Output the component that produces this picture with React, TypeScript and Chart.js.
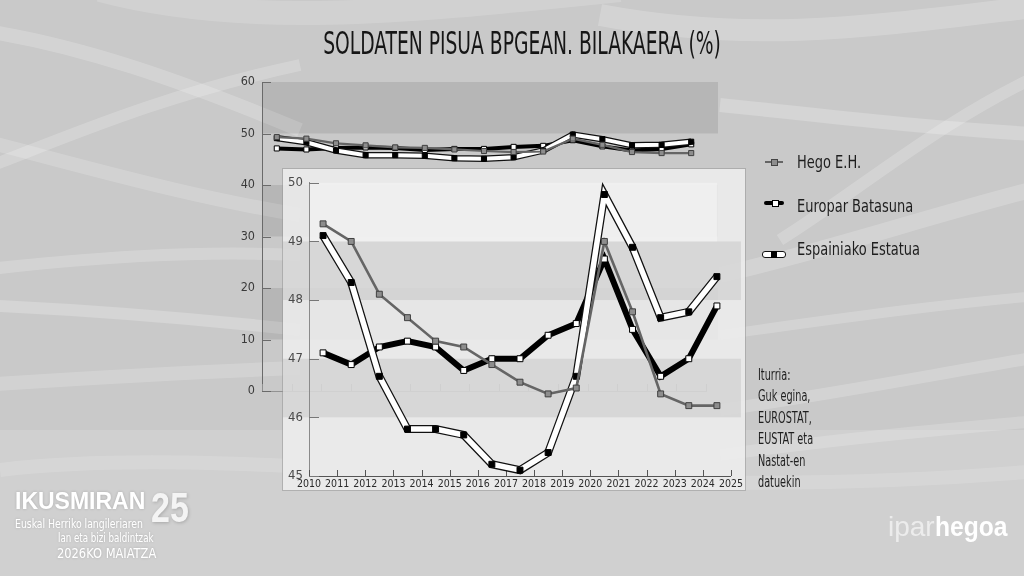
import React, { useEffect, useRef } from "react";
import { Chart, registerables } from "chart.js";

Chart.register(...registerables);

const NARROW = '"Liberation Sans Narrow", "DejaVu Sans Condensed", "Arial Narrow", sans-serif';
const SANS = '"Liberation Sans", Arial, sans-serif';

// ---------- data ----------
const years = [2010, 2011, 2012, 2013, 2014, 2015, 2016, 2017, 2018, 2019, 2020, 2021, 2022, 2023, 2024];
const yearTicks = [2010, 2011, 2012, 2013, 2014, 2015, 2016, 2017, 2018, 2019, 2020, 2021, 2022, 2023, 2024, 2025];
const outerYTicks = [0, 10, 20, 30, 40, 50, 60];
const insetYTicks = [45, 46, 47, 48, 49, 50];

const hegoEH = [49.3, 49.0, 48.1, 47.7, 47.3, 47.2, 46.9, 46.6, 46.4, 46.5, 49.0, 47.8, 46.4, 46.2, 46.2];
const europarBatasuna = [47.1, 46.9, 47.2, 47.3, 47.2, 46.8, 47.0, 47.0, 47.4, 47.6, 48.7, 47.5, 46.7, 47.0, 47.9];
const espainiakoEstatua = [49.1, 48.3, 46.7, 45.8, 45.8, 45.7, 45.2, 45.1, 45.4, 46.7, 49.8, 48.9, 47.7, 47.8, 48.4];

const seriesNames = ["Hego E.H.", "Europar Batasuna", "Espainiako Estatua"];
const outerShadedRanges = [[50, 60], [30, 40], [10, 20]];
const insetShadedRanges = [[48, 49], [46, 47]];
const insetLightRanges = [[49, 50]];

const titleText = "SOLDATEN PISUA BPGEAN. BILAKAERA (%)";
const sourceLines = ["Iturria:", "Guk egina,", "EUROSTAT,", "EUSTAT eta", "Nastat-en", "datuekin"];

// ---------- helpers ----------
const toPoints = (vals: number[]) => vals.map((v, i) => ({ x: years[i] + 0.5, y: v }));

type LineSizes = { hegoW: number; euW: number; esOuter: number; esInner: number; r: number };

function makeDatasets(s: LineSizes): any[] {
  return [
    {
      label: seriesNames[0], data: toPoints(hegoEH), borderColor: "#656565", borderWidth: s.hegoW,
      pointStyle: "rect", pointRadius: s.r, pointBackgroundColor: "#8d8d8d", pointBorderColor: "#3f3f3f",
      pointBorderWidth: 1, order: 0, clip: false, tension: 0,
    },
    {
      label: seriesNames[2], data: toPoints(espainiakoEstatua), borderColor: "#ffffff", borderWidth: s.esInner,
      pointStyle: "rect", pointRadius: s.r, pointBackgroundColor: "#000", pointBorderColor: "#000",
      pointBorderWidth: 1, order: 1, clip: false, tension: 0,
    },
    {
      label: seriesNames[2] + " (ertza)", data: toPoints(espainiakoEstatua), borderColor: "#111", borderWidth: s.esOuter,
      pointRadius: 0, order: 2, clip: false, tension: 0,
    },
    {
      label: seriesNames[1], data: toPoints(europarBatasuna), borderColor: "#000", borderWidth: s.euW,
      pointStyle: "rect", pointRadius: s.r, pointBackgroundColor: "#fff", pointBorderColor: "#000",
      pointBorderWidth: 1, order: 3, clip: false, tension: 0,
    },
  ];
}

const bandsPlugin = {
  id: "bands",
  beforeDraw(chart: any, _a: any, opts: any) {
    const { ctx, chartArea, scales } = chart;
    ctx.save();
    for (const b of opts.items || []) {
      const yTop = scales.y.getPixelForValue(b.range[1]);
      const yBot = scales.y.getPixelForValue(b.range[0]);
      const x1 = chartArea.left + (b.padLeft || 0);
      const x2 = chartArea.right + (b.padRight || 0);
      ctx.fillStyle = b.color;
      ctx.fillRect(x1, yTop, x2 - x1, yBot - yTop);
    }
    ctx.restore();
  },
};

const inwardTicksPlugin = {
  id: "inwardTicks",
  beforeDatasetsDraw(chart: any, _a: any, opts: any) {
    const { ctx, chartArea, scales } = chart;
    ctx.save();
    ctx.lineWidth = 1;
    ctx.strokeStyle = opts.xColor;
    ctx.beginPath();
    for (const v of opts.xTicks) {
      const x = Math.round(scales.x.getPixelForValue(v)) + 0.5;
      ctx.moveTo(x, chartArea.bottom);
      ctx.lineTo(x, chartArea.bottom - opts.xLen);
    }
    ctx.stroke();
    ctx.strokeStyle = opts.yColor;
    ctx.beginPath();
    for (const v of opts.yTicks) {
      const y = Math.round(scales.y.getPixelForValue(v)) + 0.5;
      ctx.moveTo(chartArea.left, y);
      ctx.lineTo(chartArea.left + opts.yLen, y);
    }
    ctx.stroke();
    ctx.restore();
  },
};

function outerConfig(): any {
  return {
    type: "line",
    data: { datasets: makeDatasets({ hegoW: 2.2, euW: 4, esOuter: 6.5, esInner: 4, r: 3.6 }) },
    options: {
      animation: false,
      responsive: true,
      maintainAspectRatio: false,
      events: [],
      layout: { padding: { left: 212, top: 82, right: 318, bottom: 175 } },
      plugins: {
        legend: { display: false },
        tooltip: { enabled: false },
        bands: {
          items: outerShadedRanges.map((r) => ({ range: r, color: "rgba(0,0,0,0.09)", padRight: 12 })),
        },
        inwardTicks: { xTicks: yearTicks, yTicks: outerYTicks, xLen: 7, yLen: 9, xColor: "#8f8f8f", yColor: "#6a6a6a" },
      },
      scales: {
        x: {
          type: "linear", min: 2010, max: 2025,
          afterBuildTicks: (s: any) => { s.ticks = yearTicks.map((v) => ({ value: v })); },
          ticks: { display: false },
          grid: { display: false, drawTicks: false },
          border: { display: true, color: "#929292" },
          afterFit: (s: any) => { s.height = 10; },
        },
        y: {
          type: "linear", min: 0, max: 60,
          afterBuildTicks: (s: any) => { s.ticks = outerYTicks.map((v) => ({ value: v })); },
          ticks: { color: "#3a3a3a", font: { family: NARROW, size: 12.5 }, padding: 7 },
          grid: { display: false, drawTicks: false },
          border: { display: true, color: "#6a6a6a" },
          afterFit: (s: any) => { s.width = 50; },
        },
      },
    },
    plugins: [bandsPlugin, inwardTicksPlugin],
  };
}

function insetConfig(): any {
  return {
    type: "line",
    data: { datasets: makeDatasets({ hegoW: 2.6, euW: 6, esOuter: 8, esInner: 5.5, r: 4.2 }) },
    options: {
      animation: false,
      responsive: true,
      maintainAspectRatio: false,
      events: [],
      layout: { padding: { left: 0, top: 11, right: 13, bottom: 0 } },
      plugins: {
        legend: { display: false },
        tooltip: { enabled: false },
        bands: {
          items: [
            ...insetLightRanges.map((r) => ({ range: r, color: "rgba(255,255,255,0.35)", padLeft: 0, padRight: -14 })),
            ...insetShadedRanges.map((r) => ({ range: r, color: "rgba(0,0,0,0.075)", padLeft: -26, padRight: 10 })),
          ],
        },
        inwardTicks: { xTicks: yearTicks, yTicks: insetYTicks, xLen: 6, yLen: 10, xColor: "#555", yColor: "#777" },
      },
      scales: {
        x: {
          type: "linear", min: 2010, max: 2025,
          afterBuildTicks: (s: any) => { s.ticks = yearTicks.map((v) => ({ value: v })); },
          ticks: { color: "#2a2a2a", font: { family: NARROW, size: 10.5 }, padding: 2, maxRotation: 0, autoSkip: false, callback: (v: any) => String(v) },
          grid: { display: false, drawTicks: false },
          border: { display: true, color: "#555" },
          afterFit: (s: any) => { s.height = 14; },
        },
        y: {
          type: "linear", min: 45, max: 50,
          afterBuildTicks: (s: any) => { s.ticks = insetYTicks.map((v) => ({ value: v })); },
          ticks: { color: "#4a4a4a", font: { family: NARROW, size: 13 }, padding: 6 },
          grid: { display: false, drawTicks: false },
          border: { display: true, color: "#8a8a8a" },
          afterFit: (s: any) => { s.width = 26; },
        },
      },
    },
    plugins: [bandsPlugin, inwardTicksPlugin],
  };
}

// ---------- UI pieces ----------
function LegendSymbol({ kind }: { kind: number }) {
  if (kind === 0) {
    return (
      <div style={{ position: "relative", width: 18, height: 8 }}>
        <div style={{ position: "absolute", left: 0, top: 3, width: 18, height: 2, background: "#656565" }} />
        <div style={{ position: "absolute", left: 6, top: 1, width: 5, height: 5, background: "#8d8d8d", border: "1px solid #444" }} />
      </div>
    );
  }
  if (kind === 1) {
    return (
      <div style={{ position: "relative", width: 20, height: 8 }}>
        <div style={{ position: "absolute", left: 0, top: 2, width: 20, height: 4, background: "#000", borderRadius: 2 }} />
        <div style={{ position: "absolute", left: 8, top: 1, width: 5, height: 5, background: "#fff", border: "1px solid #000" }} />
      </div>
    );
  }
  return (
    <div style={{ position: "relative", width: 24, height: 9 }}>
      <div style={{ position: "absolute", left: 0, top: 1, width: 22, height: 5, background: "#fff", border: "1px solid #111", borderRadius: 3 }} />
      <div style={{ position: "absolute", left: 9, top: 1, width: 6, height: 7, background: "#000" }} />
    </div>
  );
}

function Background() {
  const bands: [string, number, number][] = [
    ["M -20 30 C 80 45, 180 80, 300 130", 14, 0.2],
    ["M -20 170 C 60 140, 160 95, 300 65", 12, 0.2],
    ["M -20 140 C 80 165, 180 195, 300 215", 14, 0.18],
    ["M -20 270 C 90 258, 190 250, 300 255", 12, 0.2],
    ["M -20 305 C 90 310, 190 318, 300 330", 12, 0.22],
    ["M -20 385 C 90 378, 190 372, 300 368", 14, 0.18],
    ["M 100 -10 C 250 30, 420 10, 620 -10", 24, 0.16],
    ["M 600 15 C 760 45, 880 25, 1050 5", 22, 0.2],
    ["M 720 105 C 820 115, 920 128, 1050 135", 14, 0.22],
    ["M 780 240 C 860 190, 940 120, 1050 70", 12, 0.2],
    ["M 720 275 C 830 250, 930 215, 1050 185", 16, 0.2],
    ["M 720 335 C 830 320, 930 305, 1050 295", 10, 0.2],
    ["M 720 410 C 830 395, 930 375, 1050 355", 12, 0.2],
    ["M 720 455 C 830 440, 930 430, 1050 420", 12, 0.18],
    ["M 0 470 C 250 440, 600 510, 1050 470", 14, 0.14],
  ];
  return (
    <svg width={1024} height={576} style={{ position: "absolute", left: 0, top: 0 }}>
      <rect x={0} y={0} width={1024} height={576} fill="#c9c9c9" />
      <rect x={0} y={430} width={1024} height={146} fill="#ffffff" opacity={0.14} />
      <g fill="none" stroke="#ffffff">
        {bands.map(([d, w, o], i) => (
          <path key={i} d={d} strokeWidth={w} opacity={o} />
        ))}
      </g>
    </svg>
  );
}

export default function App() {
  const outerRef = useRef<HTMLCanvasElement | null>(null);
  const insetRef = useRef<HTMLCanvasElement | null>(null);

  useEffect(() => {
    const charts: Chart[] = [];
    if (outerRef.current) charts.push(new Chart(outerRef.current, outerConfig()));
    if (insetRef.current) charts.push(new Chart(insetRef.current, insetConfig()));
    return () => charts.forEach((c) => c.destroy());
  }, []);

  const white = "#ffffff";
  const shadow = "0 0 3px rgba(0,0,0,0.18)";

  return (
    <div style={{ position: "fixed", left: 0, top: 0, width: 1024, height: 576, overflow: "hidden", fontFamily: NARROW }}>
      <Background />

      {/* outer chart */}
      <div style={{ position: "absolute", left: 0, top: 0, width: 1024, height: 576 }}>
        <canvas ref={outerRef} />
      </div>

      {/* inset panel + chart */}
      <div style={{ position: "absolute", left: 283, top: 169, width: 462, height: 321, background: "rgba(238,238,238,0.86)", boxShadow: "0 0 0 1px rgba(150,150,150,0.55)" }} />
      <div style={{ position: "absolute", left: 283, top: 169, width: 462, height: 321 }}>
        <canvas ref={insetRef} />
      </div>

      {/* title */}
      <div style={{ position: "absolute", left: 521.5, top: 27, whiteSpace: "nowrap", fontFamily: NARROW, fontSize: 32, lineHeight: "32px", color: "#161616", transform: "translateX(-50%) scaleX(0.65)", transformOrigin: "center" }}>
        {titleText}
      </div>

      {/* legend */}
      {seriesNames.map((name, i) => {
        const tops = [152, 196, 239];
        const symTops = [158, 199, 250];
        const symLefts = [765, 764, 762];
        return (
          <React.Fragment key={name}>
            <div style={{ position: "absolute", left: symLefts[i], top: symTops[i] }}>
              <LegendSymbol kind={i} />
            </div>
            <div style={{ position: "absolute", left: 797, top: tops[i], fontFamily: NARROW, fontSize: 17, lineHeight: "20px", color: "#1e1e1e", whiteSpace: "nowrap", transform: "scaleX(0.85)", transformOrigin: "left top" }}>
              {name}
            </div>
          </React.Fragment>
        );
      })}

      {/* source */}
      <div style={{ position: "absolute", left: 758, top: 365, fontFamily: NARROW, fontSize: 15, lineHeight: "21.4px", color: "#1e1e1e", transform: "scaleX(0.72)", transformOrigin: "left top", whiteSpace: "nowrap" }}>
        {sourceLines.map((l) => <div key={l}>{l}</div>)}
      </div>

      {/* bottom-left logo */}
      <div style={{ position: "absolute", left: 15, top: 489.5, fontFamily: SANS, fontWeight: 700, fontSize: 23, lineHeight: "23px", color: white, textShadow: shadow, whiteSpace: "nowrap" }}>IKUSMIRAN</div>
      <div style={{ position: "absolute", left: 151, top: 486.5, fontFamily: SANS, fontWeight: 700, fontSize: 42, lineHeight: "42px", color: "#f4f4f4", textShadow: "1px 1px 4px rgba(0,0,0,0.2)", transform: "scaleX(0.81)", transformOrigin: "left top", whiteSpace: "nowrap" }}>25</div>
      <div style={{ position: "absolute", left: 15, top: 517, fontFamily: NARROW, fontSize: 11.5, lineHeight: "14px", color: white, textShadow: shadow, whiteSpace: "nowrap", transform: "scaleX(0.9)", transformOrigin: "left top" }}>Euskal Herriko langileriaren</div>
      <div style={{ position: "absolute", left: 58, top: 531, fontFamily: NARROW, fontSize: 11.5, lineHeight: "14px", color: white, textShadow: shadow, whiteSpace: "nowrap", transform: "scaleX(0.84)", transformOrigin: "left top" }}>lan eta bizi baldintzak</div>
      <div style={{ position: "absolute", left: 57, top: 545, fontFamily: NARROW, fontSize: 14, lineHeight: "16px", color: white, textShadow: shadow, whiteSpace: "nowrap", transform: "scaleX(0.91)", transformOrigin: "left top" }}>2026KO MAIATZA</div>

      {/* bottom-right logo */}
      <div style={{ position: "absolute", left: 888, top: 512, fontFamily: SANS, fontSize: 28, lineHeight: "30px", whiteSpace: "nowrap" }}>
        <span style={{ color: "#ececec" }}>ipar</span>
        <span style={{ color: white, fontWeight: 700, display: "inline-block", transform: "scaleX(0.88)", transformOrigin: "left center" }}>hegoa</span>
      </div>
    </div>
  );
}
